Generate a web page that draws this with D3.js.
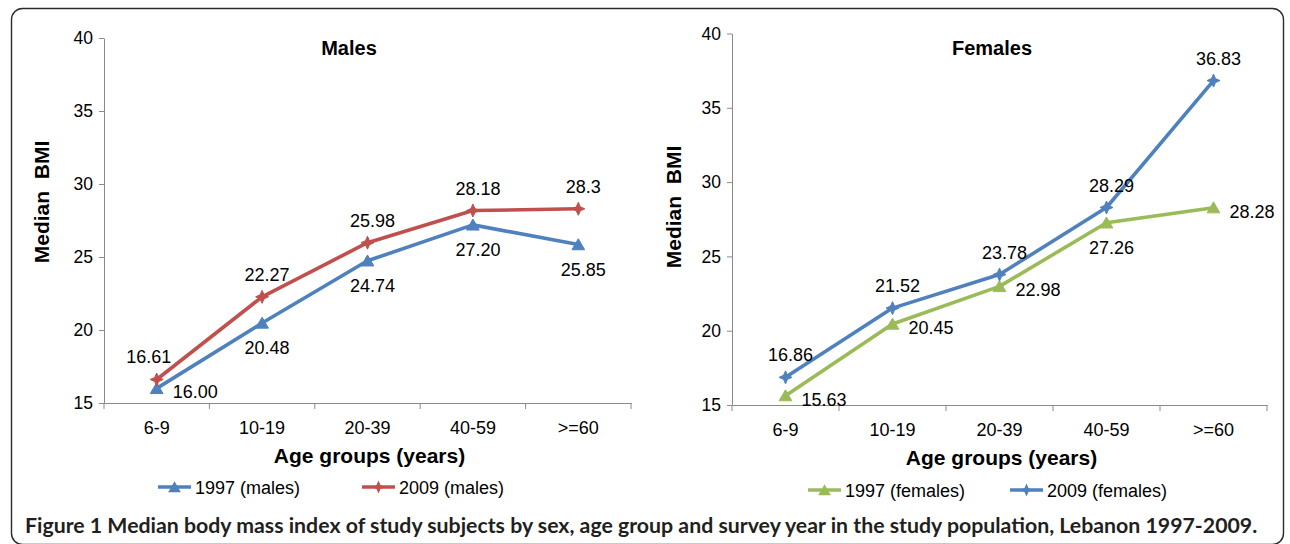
<!DOCTYPE html>
<html>
<head>
<meta charset="utf-8">
<script src="https://cdn.jsdelivr.net/npm/d3@7"></script>
<style>
  html, body { margin: 0; padding: 0; background: #fff; }
  svg { display: block; }
  text { font-family: "Liberation Sans", Arial, sans-serif; fill: #000; }
</style>
</head>
<body>
<svg id="fig" width="1290" height="544"></svg>
<script>
// Age groups on the x axis
const categories = ["6-9", "10-19", "20-39", "40-59", ">=60"];
const yTicks = [15, 20, 25, 30, 35, 40];

// Median BMI per age group, as printed on the labels
const males1997 = ["16.00", "20.48", "24.74", "27.20", "25.85"];
const males2009 = ["16.61", "22.27", "25.98", "28.18", "28.3"];
const females1997 = ["15.63", "20.45", "22.98", "27.26", "28.28"];
const females2009 = ["16.86", "21.52", "23.78", "28.29", "36.83"];

// Which side of each point its value label sits on
const males1997Side = ["right", "below", "below", "below", "below"];
const males2009Side = ["aboveLeft", "above", "above", "above", "above"];
const females1997Side = ["right", "right", "right", "below", "right"];
const females2009Side = ["above", "above", "above", "above", "above"];

const BLUE = "#4F81BD", RED = "#C0504D", GREEN = "#9BBB59", AXIS = "#8a8a8a";

const svg = d3.select("#fig");

// Outer frame
svg.append("rect")
  .attr("x", 11.5).attr("y", 8.5).attr("width", 1272).attr("height", 536)
  .attr("rx", 11).attr("fill", "none").attr("stroke", "#2b2b2b").attr("stroke-width", 1.4);

const star = "M0,-6.5L2,-2L6.5,0L2,2L0,6.5L-2,2L-6.5,0L-2,-2Z";
const tri = d3.symbol().type(d3.symbolTriangle).size(70)();

function panel(cfg) {
  const g = svg.append("g");
  const x = d3.scaleBand().domain(categories).range([cfg.x0, cfg.x1]).paddingInner(0).paddingOuter(0);
  const y = d3.scaleLinear().domain([15, 40]).range([cfg.yBot, cfg.yTop]);
  const cx = c => x(c) + x.bandwidth() / 2;

  // y axis
  const ya = g.append("g").attr("transform", `translate(${cfg.x0},0)`)
    .call(d3.axisLeft(y).tickValues(yTicks).tickSize(5).tickSizeOuter(0).tickPadding(6));
  ya.select(".domain").attr("stroke", AXIS);
  ya.selectAll(".tick line").attr("stroke", AXIS);
  ya.selectAll(".tick text").style("font-family", "Liberation Sans, Arial, sans-serif")
    .style("font-size", "17.5px").attr("fill", "#000");

  // x axis: category labels centred in bands, tick marks on band edges
  const xa = g.append("g").attr("transform", `translate(0,${cfg.yBot})`)
    .call(d3.axisBottom(x).tickSize(0).tickSizeOuter(0).tickPadding(18));
  xa.select(".domain").attr("stroke", AXIS);
  xa.selectAll(".tick text").style("font-family", "Liberation Sans, Arial, sans-serif")
    .style("font-size", "18px").attr("fill", "#000");
  const edges = categories.map(c => x(c)).concat([x(categories[categories.length - 1]) + x.bandwidth()]);
  g.append("g").selectAll("line").data(edges).join("line")
    .attr("x1", d => d).attr("x2", d => d)
    .attr("y1", cfg.yBot).attr("y2", cfg.yBot + 6)
    .attr("stroke", AXIS).attr("stroke-width", 1);

  // titles
  g.append("text").attr("x", cfg.titleX).attr("y", 55).attr("text-anchor", "middle")
    .style("font-size", "20px").style("font-weight", "bold").text(cfg.title);
  g.append("text").attr("x", (cfg.x0 + cfg.x1) / 2 + 2).attr("y", cfg.xTitleY).attr("text-anchor", "middle")
    .style("font-size", "21px").style("font-weight", "bold").text("Age groups (years)");
  g.append("text")
    .attr("transform", `translate(${cfg.yTitleX},${cfg.yTitleY}) rotate(-90)`)
    .attr("text-anchor", "middle").attr("xml:space", "preserve")
    .style("font-size", "21px").style("font-weight", "bold").style("white-space", "pre")
    .text("Median  BMI");

  const line = d3.line().x(d => cx(d.c)).y(d => y(d.v));

  cfg.series.forEach(s => {
    const pts = categories.map((c, i) => ({ c, v: +s.values[i], t: s.values[i], side: s.sides[i] }));
    g.append("path").datum(pts).attr("d", line)
      .attr("fill", "none").attr("stroke", s.color).attr("stroke-width", 3.6)
      .attr("stroke-linejoin", "round");
    g.append("g").selectAll("path").data(pts).join("path")
      .attr("transform", d => `translate(${cx(d.c)},${y(d.v) + (s.marker === "tri" ? 1.5 : 0)})`)
      .attr("d", s.marker === "tri" ? tri : star)
      .attr("fill", s.color).attr("stroke", s.color).attr("stroke-width", 1);

    // value labels
    g.append("g").selectAll("text").data(pts).join("text")
      .style("font-size", "18px")
      .attr("x", d => {
        const px = cx(d.c);
        if (d.side === "right") return px + 16;
        if (d.side === "aboveLeft") return px - 8;
        return px + 5;
      })
      .attr("y", d => {
        const py = y(d.v);
        if (d.side === "right") return py + 10;
        if (d.side === "below") return py + 31;
        return py - 16;
      })
      .attr("text-anchor", d => d.side === "right" ? "start" : "middle")
      .text(d => d.t);
  });

  // legend
  cfg.series.forEach((s, i) => {
    const lx = cfg.legendX[i];
    g.append("line").attr("x1", lx).attr("x2", lx + 33)
      .attr("y1", cfg.legendY).attr("y2", cfg.legendY)
      .attr("stroke", s.color).attr("stroke-width", 3.6);
    g.append("path")
      .attr("transform", `translate(${lx + 16.5},${cfg.legendY + (s.marker === "tri" ? 1.5 : 0)})`)
      .attr("d", s.marker === "tri" ? tri : star).attr("fill", s.color);
    g.append("text").attr("x", lx + 37).attr("y", cfg.legendY + 7)
      .style("font-size", "18px").text(s.name);
  });
}

panel({
  title: "Males", titleX: 349,
  x0: 104, x1: 631, yTop: 38, yBot: 403,
  xTitleY: 463, yTitleX: 49, yTitleY: 202,
  legendX: [158, 362], legendY: 487,
  series: [
    { name: "1997 (males)", values: males1997, sides: males1997Side, color: BLUE, marker: "tri" },
    { name: "2009 (males)", values: males2009, sides: males2009Side, color: RED, marker: "star" }
  ]
});

panel({
  title: "Females", titleX: 992,
  x0: 732, x1: 1267, yTop: 33.5, yBot: 405,
  xTitleY: 465, yTitleX: 681, yTitleY: 207,
  legendX: [808, 1010], legendY: 490,
  series: [
    { name: "1997 (females)", values: females1997, sides: females1997Side, color: GREEN, marker: "tri" },
    { name: "2009 (females)", values: females2009, sides: females2009Side, color: BLUE, marker: "star" }
  ]
});

// Figure caption, sized to span the frame
const cap = svg.append("text").attr("x", 25).attr("y", 533)
  .style("font-family", "Lato, 'Open Sans', sans-serif").style("font-size", "20px").style("fill", "#231f20");
cap.append("tspan").style("font-weight", "bold").text("Figure 1 ");
cap.append("tspan").style("font-weight", "bold")
  .text("Median body mass index of study subjects by sex, age group and survey year in the study population, Lebanon 1997-2009.");
const w = cap.node().getComputedTextLength();
cap.style("font-size", (20 * 1233 / w).toFixed(2) + "px");
</script>
</body>
</html>
